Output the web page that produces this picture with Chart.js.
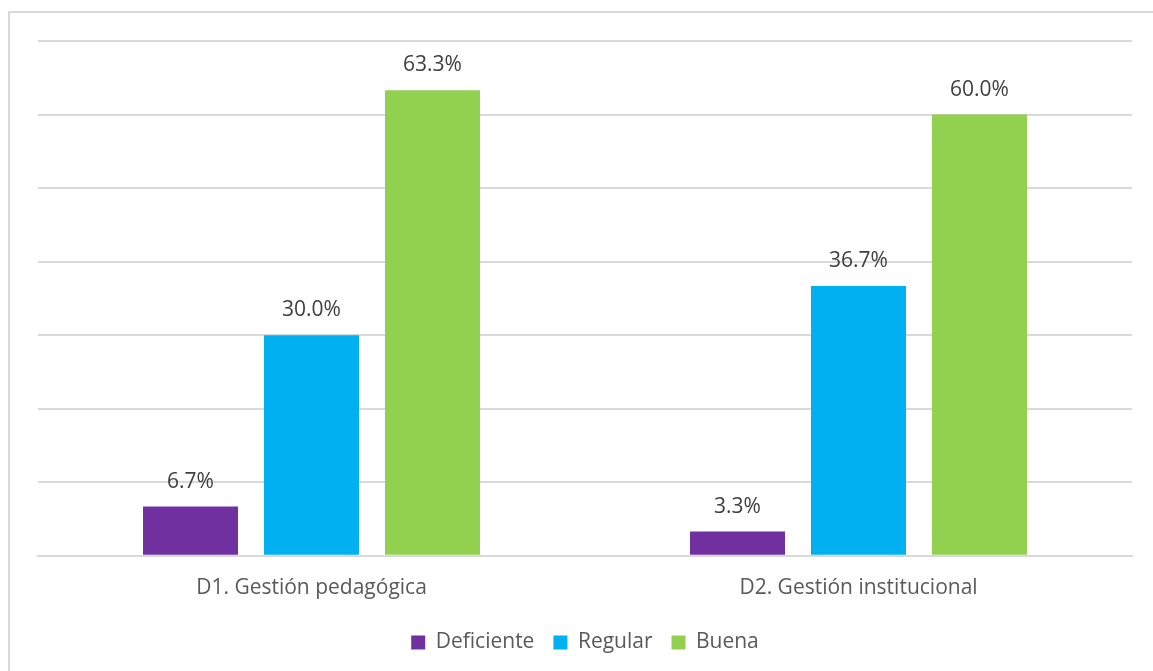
<!DOCTYPE html>
<html><head><meta charset="utf-8">
<script src="https://cdn.jsdelivr.net/npm/chart.js@4.4.0/dist/chart.umd.min.js"></script>
<style>html,body{margin:0;padding:0;background:#fff;}canvas{display:block;}</style>
</head><body>
<canvas id="c" width="1153" height="671"></canvas>
<script>
const categories = ["D1. Gestión pedagógica", "D2. Gestión institucional"];
const seriesNames = ["Deficiente", "Regular", "Buena"];
const deficiente = [6.7, 3.3];
const regular = [30.0, 36.7];
const buena = [63.3, 60.0];
const colors = ["#7030A0", "#00B0F0", "#92D050"];

const FONT = "'Open Sans', Lato, sans-serif";

const borderPlugin = {
  id: 'outerBorder',
  beforeDraw(chart) {
    const ctx = chart.ctx;
    ctx.save();
    ctx.fillStyle = '#fff';
    ctx.fillRect(0, 0, chart.width, chart.height);
    ctx.strokeStyle = '#d9d9d9';
    ctx.lineWidth = 2;
    ctx.strokeRect(9, 12, chart.width + 20, chart.height + 20);
    ctx.restore();
  }
};

const labelPlugin = {
  id: 'valueLabels',
  afterDatasetsDraw(chart) {
    const ctx = chart.ctx;
    ctx.save();
    ctx.font = "21px " + FONT;
    ctx.fillStyle = '#404040';
    ctx.textAlign = 'center';
    ctx.textBaseline = 'middle';
    chart.data.datasets.forEach((ds, i) => {
      chart.getDatasetMeta(i).data.forEach((bar, j) => {
        ctx.fillText(ds.data[j].toFixed(1) + '%', bar.x, bar.y - 25);
      });
    });
    ctx.restore();
  }
};

new Chart(document.getElementById('c'), {
  type: 'bar',
  data: {
    labels: categories,
    datasets: [
      { label: seriesNames[0], data: deficiente, backgroundColor: colors[0] },
      { label: seriesNames[1], data: regular, backgroundColor: colors[1] },
      { label: seriesNames[2], data: buena, backgroundColor: colors[2] }
    ]
  },
  options: {
    responsive: false,
    animation: false,
    devicePixelRatio: 1,
    categoryPercentage: 0.6636,
    barPercentage: 0.785,
    layout: { padding: { left: 38, right: 21, top: 41, bottom: 8 } },
    plugins: {
      legend: {
        position: 'bottom',
        labels: {
          font: { family: FONT, size: 21 },
          color: '#595959',
          boxWidth: 14,
          boxHeight: 14,
          padding: 19
        }
      },
      tooltip: { enabled: false }
    },
    scales: {
      x: {
        grid: { display: false },
        border: { display: true, color: '#d9d9d9', width: 2 },
        ticks: { font: { family: FONT, size: 21 }, color: '#595959', padding: 12 }
      },
      y: {
        min: 0, max: 70,
        ticks: { display: false, stepSize: 10 },
        border: { display: false },
        grid: { color: '#d9d9d9', lineWidth: 2, drawTicks: false }
      }
    }
  },
  plugins: [borderPlugin, labelPlugin]
});
</script>
</body></html>
